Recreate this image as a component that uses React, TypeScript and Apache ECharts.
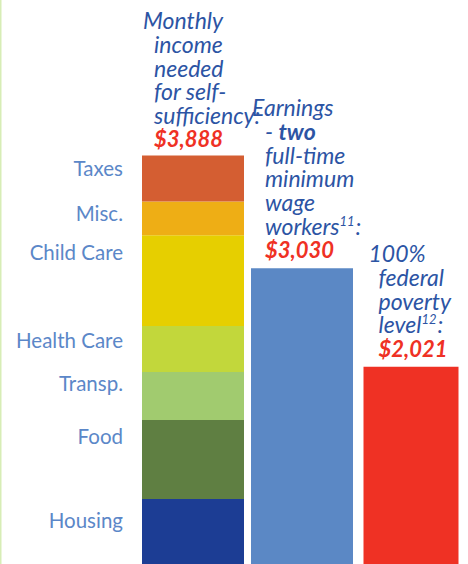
import React, { useEffect, useRef } from "react";
import * as echarts from "echarts";

// ---- data ----
const categories = ["Self-sufficiency", "Two minimum wage workers", "100% federal poverty level"];
const segmentNames = ["Housing", "Food", "Transp.", "Health Care", "Child Care", "Misc.", "Taxes"];
const segmentValues = [666, 810, 492, 471, 929, 348, 471];
const selfSufficiencyAmount = 3888;
const earningsValue = 3030;
const povertyValue = 2021;
const amounts = [selfSufficiencyAmount, earningsValue, povertyValue];
const headerLines = [
  ["Monthly", "income", "needed", "for self-", "sufficiency:"],
  ["Earnings", "- {b|two}", "full-time", "minimum", "wage", "workers{s|11}:"],
  ["100%", "federal", "poverty", "level{s|12}:"],
];

// ---- styles ----
const segmentColors = ["#1c3d94", "#5f7f42", "#a1cb6f", "#c2d73b", "#e6cf00", "#eeae15", "#d45e32"];
const segmentLabelDy = [20.5, 16, 11, 14.3, 17, 11.5, 13];
const BLUE_TEXT = "#2c54a4";
const LABEL_BLUE = "#5b87c8";
const RED = "#ef3124";
const FONT = "Lato, 'Open Sans', sans-serif";
const bodyIndent = [12, 14, 15];
const firstIndent = [1, 1, 5];
const amountGap = [8, 10, 10];
const LINE = 23.8;
const HFS = 23;

function fmt(v: number) {
  return "$" + v.toLocaleString("en-US");
}

export default function App() {
  const ref = useRef<HTMLDivElement>(null);
  useEffect(() => {
    if (!ref.current) return;
    const chart = echarts.init(ref.current, null, { renderer: "svg" });
    const barWidths = [102, 102, 95];
    const series: any[] = segmentNames.map((name, i) => ({
      name,
      type: "bar",
      stack: "a",
      xAxisIndex: 0,
      barWidth: barWidths[0],
      itemStyle: { color: segmentColors[i] },
      label: {
        show: true,
        position: [-19, segmentLabelDy[i]],
        align: "right",
        verticalAlign: "middle",
        formatter: "{a}",
        color: LABEL_BLUE,
        fontFamily: FONT,
        fontSize: 20.5,
      },
      data: [segmentValues[i], "-", "-"],
    }));
    series.push({
      name: categories[1],
      type: "bar",
      stack: "a",
      xAxisIndex: 0,
      barWidth: barWidths[1],
      itemStyle: { color: "#5b88c5" },
      data: ["-", earningsValue, "-"],
    });
    series.push({
      name: categories[2],
      type: "bar",
      xAxisIndex: 1,
      barWidth: barWidths[2],
      itemStyle: { color: RED },
      data: ["-", "-", povertyValue],
    });
    chart.setOption({
      animation: false,
      grid: { left: 138.5, right: 2.5, top: 0, bottom: 0 },
      xAxis: [
        { type: "category", data: categories, show: false },
        { type: "category", data: categories, show: false },
      ],
      yAxis: { type: "value", min: 0, max: 5780, show: false },
      series,
    });

    const totals = [segmentValues.reduce((a, b) => a + b, 0), earningsValue, povertyValue];
    const graphic: any[] = [
      {
        type: "line",
        shape: { x1: 0.75, y1: 0, x2: 0.75, y2: 564 },
        style: { stroke: "#d7edb6", lineWidth: 1.5 },
      },
    ];
    const rich = {
      b: { fontWeight: "bold", fontStyle: "italic", fill: BLUE_TEXT, fontSize: HFS, fontFamily: FONT, lineHeight: LINE },
      s: { fontSize: 13, fontStyle: "italic", fill: BLUE_TEXT, fontFamily: FONT, verticalAlign: "top", padding: [0, 1, 0, 0], lineHeight: LINE },
      r: { fontWeight: "bold", fontStyle: "italic", fill: RED, fontSize: 22, fontFamily: FONT, lineHeight: LINE },
    };
    totals.forEach((t, k) => {
      const p = chart.convertToPixel({ gridIndex: 0 }, [k, t]) as number[];
      const left = p[0] - barWidths[k] / 2;
      const amountBase = p[1] - amountGap[k];
      const lines = headerLines[k];
      const n = lines.length;
      const firstBase = amountBase - n * LINE;
      // first (hanging) line
      graphic.push({
        type: "text",
        x: left + firstIndent[k],
        y: firstBase - 8.5 - LINE / 2,
        style: {
          text: lines[0],
          fill: BLUE_TEXT,
          fontFamily: FONT,
          fontSize: HFS,
          fontStyle: "italic",
          lineHeight: LINE,
          align: "left",
          verticalAlign: "top",
        },
      });
      // remaining lines + amount as one block
      const body = lines.slice(1).concat(["{r|" + fmt(amounts[k]) + "}"]).join("\n");
      graphic.push({
        type: "text",
        x: left + bodyIndent[k],
        y: firstBase + LINE - 8.5 - LINE / 2,
        style: {
          text: body,
          fill: BLUE_TEXT,
          fontFamily: FONT,
          fontSize: HFS,
          fontStyle: "italic",
          lineHeight: LINE,
          align: "left",
          verticalAlign: "top",
          rich,
        },
      });
    });
    chart.setOption({ graphic });
    return () => chart.dispose();
  }, []);
  return (
    <div
      ref={ref}
      style={{ position: "fixed", left: 0, top: 0, width: 468, height: 564, background: "#ffffff" }}
    />
  );
}
